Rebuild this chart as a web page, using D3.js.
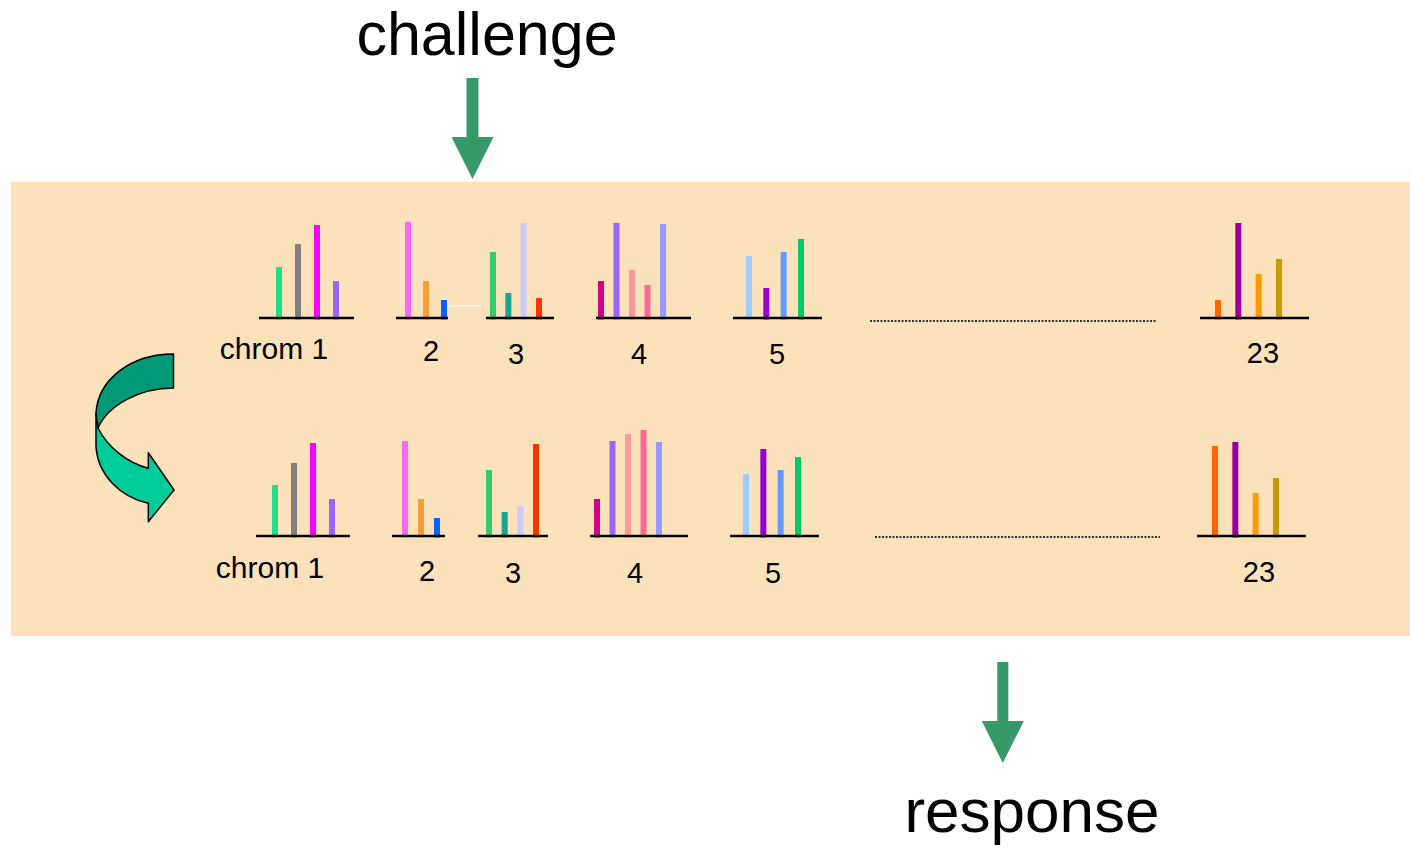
<!DOCTYPE html>
<html>
<head>
<meta charset="utf-8">
<script src="https://cdn.jsdelivr.net/npm/d3@7"></script>
<style>
  body { margin: 0; background: #fff; }
  svg { display: block; font-family: "Liberation Sans", Arial, sans-serif; }
</style>
</head>
<body>
<div id="chart"></div>
<script>
// chromosome groups (labels)
var chroms = ["chrom 1", "2", "3", "4", "5", "23"];

// bar heights, before and after the challenge
var challengeValues = [
  [51, 74, 93, 37],
  [96, 37, 18],
  [66, 25, 95, 20],
  [37, 95, 48, 33, 94],
  [62, 30, 66, 79],
  [18, 95, 44, 59]
];
var responseValues = [
  [51, 73, 93, 37],
  [95, 37, 18],
  [66, 24, 30, 92],
  [37, 95, 102, 106, 94],
  [62, 87, 66, 79],
  [90, 94, 43, 58]
];

var barColors = [
  ["#22dd88", "#808080", "#ff00ff", "#9966ff"],
  ["#ff66ff", "#ff9933", "#0066ff"],
  ["#33cc66", "#19a696", "#ccccff", "#ff3300"],
  ["#d4008a", "#9966ff", "#ff9999", "#ff6699", "#9999ff"],
  ["#99ccff", "#9900cc", "#6699ff", "#00cc66"],
  ["#ff6600", "#990099", "#ff9900", "#cc9900"]
];

// layout of each row: axis extent, bar extent, label position
var rows = [
  { values: challengeValues, base: 318,
    axis: [[259, 354], [396, 448], [486, 554], [596, 691], [733, 822], [1200, 1309]],
    bars: [[279, 336], [408, 444], [493, 539], [601, 663], [749, 801], [1218, 1279]],
    labels: [[274, 359], [431, 361], [516, 364], [639, 364], [777, 364], [1263, 363]],
    dots: [870, 1156, 321] },
  { values: responseValues, base: 536,
    axis: [[256, 350], [392, 445], [478, 548], [590, 688], [730, 819], [1197, 1306]],
    bars: [[275, 332], [405, 437], [489, 536], [597, 659], [746, 798], [1215, 1276]],
    labels: [[270, 578], [427, 581], [513, 583], [635, 583], [773, 583], [1259, 582]],
    dots: [875, 1160, 537] }
];

var width = 1410, height = 853;

var svg = d3.select("#chart").append("svg")
    .attr("width", width)
    .attr("height", height);

svg.append("rect")
    .attr("x", 11).attr("y", 182)
    .attr("width", 1399).attr("height", 454)
    .attr("fill", "#fbe2bb");

function drawRow(row) {
  var g = svg.append("g").attr("class", "row");

  var y = d3.scaleLinear()
      .domain([0, 100])
      .range([row.base, row.base - 100]);

  chroms.forEach(function(name, i) {
    var vals = row.values[i];
    var x = d3.scalePoint()
        .domain(d3.range(vals.length))
        .range(row.bars[i]);

    var grp = g.append("g").attr("class", "chrom");

    grp.selectAll("rect")
      .data(vals)
      .enter().append("rect")
        .attr("x", function(d, j) { return x(j) - 3; })
        .attr("y", function(d) { return y(d); })
        .attr("width", 6)
        .attr("height", function(d) { return y(0) - y(d) + 1.5; })
        .attr("fill", function(d, j) { return barColors[i][j]; });

    grp.append("line")
        .attr("x1", row.axis[i][0]).attr("x2", row.axis[i][1])
        .attr("y1", y(0)).attr("y2", y(0))
        .attr("stroke", "#000")
        .attr("stroke-width", 2.5);

    grp.append("text")
        .attr("x", row.labels[i][0])
        .attr("y", row.labels[i][1])
        .attr("text-anchor", "middle")
        .style("font-size", i == 0 ? "30px" : "29px")
        .attr("fill", "#000")
        .text(name);
  });

  g.append("line")
      .attr("x1", row.dots[0]).attr("x2", row.dots[1])
      .attr("y1", row.dots[2]).attr("y2", row.dots[2])
      .attr("stroke", "#333")
      .attr("stroke-width", 2)
      .attr("stroke-dasharray", "2,1.5");
}

rows.forEach(drawRow);

// small white connector next to chrom 2 (top row)
svg.append("line")
    .attr("x1", 449).attr("x2", 481)
    .attr("y1", 306).attr("y2", 306)
    .attr("stroke", "#fff")
    .attr("stroke-width", 1.2);

// straight green arrows
function downArrow(cx, top, shaftEnd, tip, shaftW, headW) {
  var p = d3.path();
  p.moveTo(cx - shaftW / 2, top);
  p.lineTo(cx + shaftW / 2, top);
  p.lineTo(cx + shaftW / 2, shaftEnd);
  p.lineTo(cx + headW / 2, shaftEnd);
  p.lineTo(cx, tip);
  p.lineTo(cx - headW / 2, shaftEnd);
  p.lineTo(cx - shaftW / 2, shaftEnd);
  p.closePath();
  svg.append("path").attr("d", p.toString()).attr("fill", "#359a68");
}
downArrow(472.5, 78, 137, 179, 12, 42);
downArrow(1002.8, 662, 721, 763, 11, 42);

// curved arrow on the left
svg.append("path")
    .attr("d", "M96,413 L96,447 C98,475 120,497 148.3,503.3 L148.3,521.7 L174,490 " +
               "L148.3,452.7 L148.3,468.3 C128,463 108,448 98,428 Z")
    .attr("fill", "#00cc99")
    .attr("stroke", "#000")
    .attr("stroke-width", 1.5)
    .attr("stroke-linejoin", "round");

svg.append("path")
    .attr("d", "M173.5,354 C130,354 98,380 96,413 L98,428 C108,405 140,388 173.5,388 Z")
    .attr("fill", "#009977")
    .attr("stroke", "#000")
    .attr("stroke-width", 1.5)
    .attr("stroke-linejoin", "round");

svg.append("text")
    .attr("x", 487).attr("y", 55)
    .attr("text-anchor", "middle")
    .style("font-size", "61px")
    .text("challenge");

svg.append("text")
    .attr("x", 1032).attr("y", 832)
    .attr("text-anchor", "middle")
    .style("font-size", "62px")
    .text("response");
</script>
</body>
</html>
